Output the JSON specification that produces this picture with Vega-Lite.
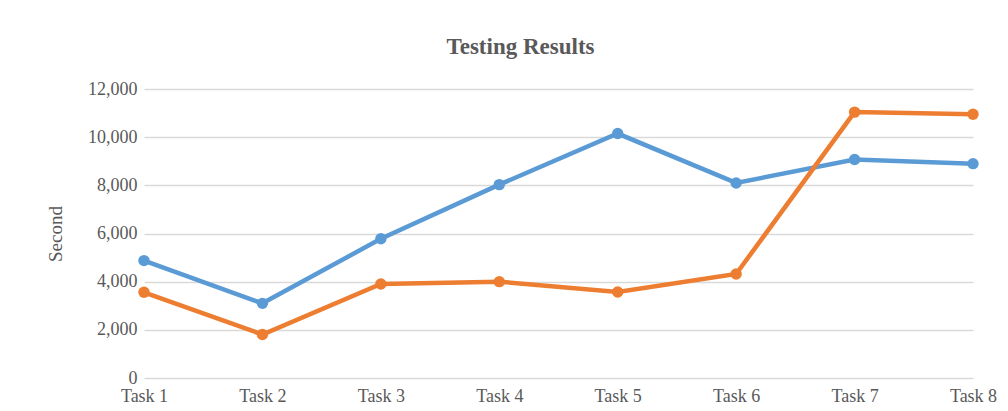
{
  "$schema": "https://vega.github.io/schema/vega-lite/v6.json",
  "width": 829,
  "height": 289,
  "autosize": {"type": "none"},
  "padding": {"left": 144, "top": 89, "right": 35, "bottom": 33},
  "background": "white",
  "config": {
    "view": {"stroke": null},
    "font": "Liberation Serif"
  },
  "title": {
    "text": "Testing Results",
    "font": "Liberation Serif",
    "fontSize": 23,
    "fontWeight": "bold",
    "color": "#595959",
    "anchor": "middle",
    "dx": -38,
    "offset": 21
  },
  "data": {
    "values": [
      {"task": "Task 1", "series": "Series1", "value": 4875},
      {"task": "Task 2", "series": "Series1", "value": 3100},
      {"task": "Task 3", "series": "Series1", "value": 5780},
      {"task": "Task 4", "series": "Series1", "value": 8030},
      {"task": "Task 5", "series": "Series1", "value": 10150},
      {"task": "Task 6", "series": "Series1", "value": 8100},
      {"task": "Task 7", "series": "Series1", "value": 9070},
      {"task": "Task 8", "series": "Series1", "value": 8900},
      {"task": "Task 1", "series": "Series2", "value": 3560},
      {"task": "Task 2", "series": "Series2", "value": 1806},
      {"task": "Task 3", "series": "Series2", "value": 3904},
      {"task": "Task 4", "series": "Series2", "value": 4000},
      {"task": "Task 5", "series": "Series2", "value": 3570},
      {"task": "Task 6", "series": "Series2", "value": 4320},
      {"task": "Task 7", "series": "Series2", "value": 11040},
      {"task": "Task 8", "series": "Series2", "value": 10950}
    ]
  },
  "encoding": {
    "x": {
      "field": "task",
      "type": "ordinal",
      "scale": {"type": "point", "padding": 0},
      "axis": {
        "title": null,
        "labelAngle": 0,
        "labelFont": "Liberation Serif",
        "labelFontSize": 18,
        "labelColor": "#595959",
        "labelPadding": 9,
        "ticks": false,
        "domain": false,
        "grid": false
      }
    },
    "y": {
      "field": "value",
      "type": "quantitative",
      "scale": {"domain": [0, 12000], "nice": false},
      "axis": {
        "title": "Second",
        "titleFont": "Liberation Serif",
        "titleFontSize": 19,
        "titleFontWeight": "normal",
        "titleColor": "#595959",
        "titlePadding": 22,
        "values": [0, 2000, 4000, 6000, 8000, 10000, 12000],
        "format": ",d",
        "labelFont": "Liberation Serif",
        "labelFontSize": 18,
        "labelColor": "#595959",
        "labelPadding": 7,
        "ticks": false,
        "domain": false,
        "grid": true,
        "gridColor": "#D9D9D9",
        "gridWidth": 1.3
      }
    },
    "color": {
      "field": "series",
      "type": "nominal",
      "scale": {"domain": ["Series1", "Series2"], "range": ["#5B9BD5", "#ED7D31"]},
      "legend": null
    }
  },
  "layer": [
    {"mark": {"type": "line", "strokeWidth": 4.5}},
    {"mark": {"type": "point", "filled": true, "opacity": 1, "size": 130}}
  ]
}
